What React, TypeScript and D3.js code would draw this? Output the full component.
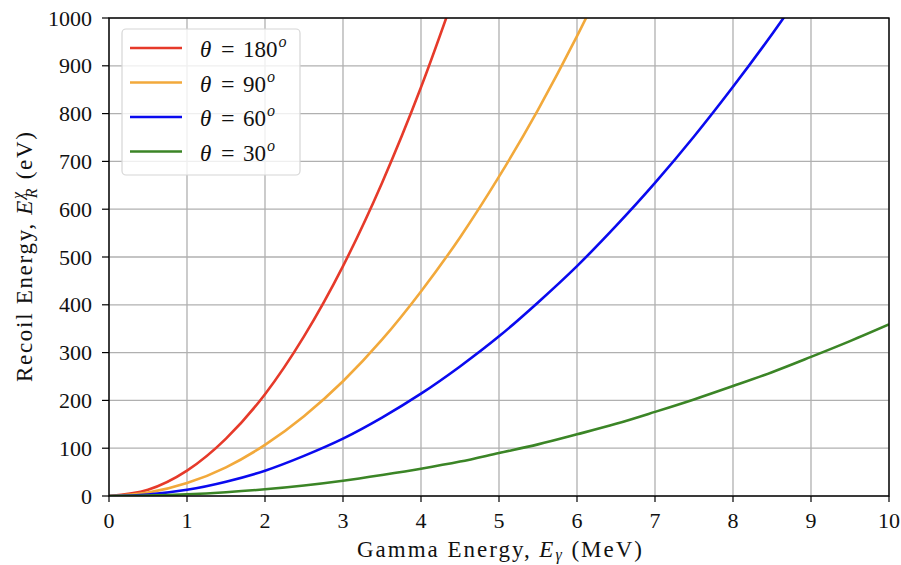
import React from "react";
import * as d3 from "d3";

const W = 901;
const H = 565;
const margin = { left: 109, right: 12, top: 18, bottom: 69 };

const xTicks = [0, 1, 2, 3, 4, 5, 6, 7, 8, 9, 10];
const yTicks = [0, 100, 200, 300, 400, 500, 600, 700, 800, 900, 1000];

const energies = [0, 0.5, 1, 1.5, 2, 2.5, 3, 3.5, 4, 4.5, 5, 5.5, 6, 6.5, 7, 7.5, 8, 8.5, 9, 9.5, 10];

const recoil180 = [0, 13, 53, 120, 213, 334, 481, 655, 855, 1082];
const recoil90 = [0, 7, 27, 60, 107, 167, 240, 327, 428, 541, 668, 808, 962, 1130];
const recoil60 = [0, 3.3, 13, 30, 53, 84, 120, 164, 214, 271, 334, 405, 481, 565, 655, 752, 856, 966, 1083];
const recoil30 = [0, 0.9, 3.6, 8, 14, 22, 32, 44, 57, 72, 90, 108, 129, 151, 176, 202, 230, 259, 291, 324, 359];

const seriesLabels = ["180", "90", "60", "30"];
const seriesColors = ["#e63a2a", "#f2a93b", "#0a0aef", "#3b8526"];
const seriesValues = [recoil180, recoil90, recoil60, recoil30];

const FONT = "'Liberation Serif', 'DejaVu Serif', serif";

export default function App() {
  const iw = W - margin.left - margin.right;
  const ih = H - margin.top - margin.bottom;
  const x = d3.scaleLinear().domain([0, 10]).range([margin.left, margin.left + iw]);
  const y = d3.scaleLinear().domain([0, 1000]).range([margin.top + ih, margin.top]);
  const line = d3
    .line<[number, number]>()
    .x((d) => x(d[0]))
    .y((d) => y(d[1]))
    .curve(d3.curveMonotoneX);

  const legendX = 122;
  const legendY = 29;
  const rowH = 34.5;

  return (
    <svg width={W} height={H} style={{ position: "absolute", left: 0, top: 0, background: "#fff" }} fontFamily={FONT}>
      <defs>
        <clipPath id="plot">
          <rect x={margin.left} y={margin.top} width={iw} height={ih} />
        </clipPath>
      </defs>
      {/* grid */}
      {xTicks.map((t) => (
        <line key={"gx" + t} x1={x(t)} x2={x(t)} y1={margin.top} y2={margin.top + ih} stroke="#b0b0b0" strokeWidth={1.3} />
      ))}
      {yTicks.map((t) => (
        <line key={"gy" + t} x1={margin.left} x2={margin.left + iw} y1={y(t)} y2={y(t)} stroke="#b0b0b0" strokeWidth={1.3} />
      ))}
      {/* curves */}
      <g clipPath="url(#plot)">
        {seriesValues.map((vals, i) => (
          <path
            key={i}
            d={line(vals.map((v, j) => [energies[j], v] as [number, number])) || ""}
            fill="none"
            stroke={seriesColors[i]}
            strokeWidth={2.6}
          />
        ))}
      </g>
      {/* frame */}
      <rect x={margin.left} y={margin.top} width={iw} height={ih} fill="none" stroke="#000" strokeWidth={1.4} />
      {/* ticks */}
      {xTicks.map((t) => (
        <g key={"tx" + t}>
          <line x1={x(t)} x2={x(t)} y1={margin.top + ih} y2={margin.top + ih + 6} stroke="#000" strokeWidth={1.2} />
          <text x={x(t)} y={margin.top + ih + 32} textAnchor="middle" fontSize={22} fill="#111">
            {t}
          </text>
        </g>
      ))}
      {yTicks.map((t) => (
        <g key={"ty" + t}>
          <line x1={margin.left - 7} x2={margin.left} y1={y(t)} y2={y(t)} stroke="#000" strokeWidth={1.2} />
          <text x={margin.left - 17} y={y(t) + 7.5} textAnchor="end" fontSize={22} fill="#111">
            {t}
          </text>
        </g>
      ))}
      {/* axis titles */}
      <text x={357} y={557} fontSize={23} fill="#111" textLength={285} lengthAdjust="spacing">
        Gamma Energy, <tspan fontStyle="italic">E</tspan>
        <tspan fontStyle="italic" fontSize={16} dy={3}>γ</tspan>
        <tspan dy={-3}> (MeV)</tspan>
      </text>
      <text transform={`translate(32, 382) rotate(-90)`} fontSize={23} fill="#111" textLength={250} lengthAdjust="spacing">
        Recoil Energy, <tspan fontStyle="italic">E</tspan>
        <tspan fontStyle="italic" fontSize={16} dy={-9}>χ</tspan>
        <tspan fontStyle="italic" fontSize={16} dx={-8} dy={14}>R</tspan>
        <tspan dy={-5}> (eV)</tspan>
      </text>
      {/* legend */}
      <rect x={legendX} y={legendY} width={178} height={146} rx={4} fill="#fff" fillOpacity={0.8} stroke="#d6d6d6" strokeWidth={1.2} />
      {seriesLabels.map((lab, i) => {
        const cy = legendY + 19 + i * rowH;
        return (
          <g key={"lg" + i}>
            <line x1={130} x2={182} y1={cy} y2={cy} stroke={seriesColors[i]} strokeWidth={2.6} />
            <text x={200} y={cy + 9} fontSize={23} fill="#111" fontStyle="italic">θ</text>
            <text x={221} y={cy + 9} fontSize={24} fill="#111">=</text>
            <text x={243} y={cy + 9} fontSize={23} fill="#111">
              {lab}
              <tspan fontStyle="italic" fontSize={16} dx={1} dy={-10}>o</tspan>
            </text>
          </g>
        );
      })}
    </svg>
  );
}
